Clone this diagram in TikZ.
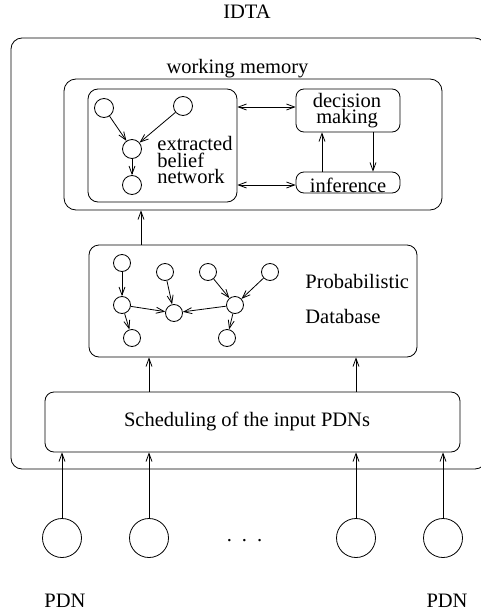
\documentclass[tikz,border=0pt]{standalone}
\usepackage{fontspec}
\setmainfont{Liberation Serif}
\usetikzlibrary{arrows.meta}
\begin{document}
\begin{tikzpicture}[x=1pt,y=-1pt,line width=0.8pt,
  >={Straight Barb[length=8pt,width=6pt]},
  arr/.style={->},
  darr/.style={<->},
  boxn/.style={draw,rounded corners=#1,inner sep=0pt},
  boxn/.default=9pt,
  cir/.style={draw,circle,inner sep=0pt,minimum size=#1},
  cir/.default=17pt,
  lab/.style={inner sep=0pt,font=\fontsize{20.5}{24}\selectfont},
  tight/.style={text height=11pt,text depth=3pt}]
\useasboundingbox (0,0) rectangle (480,613);
% boxes
\node[boxn=11pt,minimum width=475pt,minimum height=431pt] (outer) at (248.5,253.5) {};
\node[boxn=12pt,minimum width=378pt,minimum height=131pt] (wm) at (253,144.5) {};
\node[boxn=10pt,minimum width=149pt,minimum height=113pt] (bn) at (162.5,145.5) {};
\node[boxn=8pt,minimum width=104pt,minimum height=43pt] (dm) at (348,110.5) {};
\node[boxn=8pt,minimum width=104pt,minimum height=21pt] (inf) at (348,182.5) {};
\node[boxn=10pt,minimum width=328pt,minimum height=112pt] (db) at (253,301) {};
\node[boxn=9pt,minimum width=415pt,minimum height=60pt] (sch) at (252.5,422) {};
% texts
\node[lab,anchor=base] (tidta) at (247,19) {IDTA};
\node[lab,anchor=base] (twm) at (237.5,73) {working memory};
\node[lab,tight,anchor=base west] (t1) at (157,150) {extracted};
\node[lab,tight,anchor=base west] (t2) at (157,167) {belief};
\node[lab,tight,anchor=base west] (t3) at (157,183) {network};
\node[lab,tight,anchor=base] (t4) at (347,107) {decision};
\node[lab,tight,anchor=base] (t5) at (347,123) {making};
\node[lab,anchor=base] (t6) at (348,192) {inference};
\node[lab,anchor=base west] (t7) at (305,288) {Probabilistic};
\node[lab,anchor=base west] (t8) at (305,323) {Database};
\node[lab,anchor=base] (t9) at (247,426) {Scheduling of the input PDNs};
\node[lab,anchor=base] (t10) at (65,607) {PDN};
\node[lab,anchor=base] (t11) at (447,607) {PDN};
\node[lab,anchor=base] (tdots) at (244.5,541) {.\hspace{10pt}.\hspace{10pt}.};
% belief network
\node[cir=19pt] (b1) at (104,108) {};
\node[cir=19pt] (b2) at (183,106) {};
\node[cir=19pt] (b3) at (132,149) {};
\node[cir=19pt] (b4) at (132,185) {};
\draw[arr] (b1) -- (b3);
\draw[arr] (b2) -- (b3);
\draw[arr] (b3) -- (b4);
% database network
\node[cir] (n1) at (122,263) {};
\node[cir] (n2) at (165,272) {};
\node[cir] (n3) at (208,272) {};
\node[cir] (n4) at (270,272) {};
\node[cir] (n5) at (122,305) {};
\node[cir] (n6) at (174,313) {};
\node[cir] (n7) at (235,305) {};
\node[cir] (n8) at (132,338) {};
\node[cir] (n9) at (227,338) {};
\draw[arr] (n1) -- (n5);
\draw[arr] (n2) -- (n6);
\draw[arr] (n3) -- (n7);
\draw[arr] (n4) -- (n7);
\draw[arr] (n5) -- (n6);
\draw[arr] (n7) -- (n6);
\draw[arr] (n5) -- (n8);
\draw[arr] (n7) -- (n9);
% PDN circles
\node[cir=39pt] (p1) at (62,538) {};
\node[cir=39pt] (p2) at (149,538) {};
\node[cir=39pt] (p3) at (356,538) {};
\node[cir=39pt] (p4) at (443,538) {};
% connectors
\coordinate (ya) at (0,107);
\coordinate (yb) at (0,185);
\coordinate (xa) at (141,0);
\coordinate (xb) at (149,0);
\coordinate (xc) at (356,0);
\coordinate (xd) at (322,0);
\coordinate (xe) at (373,0);
\draw[darr] (bn.east |- ya) -- (dm.west |- ya);
\draw[darr] (bn.east |- yb) -- (inf.west |- yb);
\draw[arr] (inf.north -| xd) -- (dm.south -| xd);
\draw[arr] (dm.south -| xe) -- (inf.north -| xe);
\draw[arr] (db.north -| xa) -- (wm.south -| xa);
\draw[arr] (sch.north -| xb) -- (db.south -| xb);
\draw[arr] (sch.north -| xc) -- (db.south -| xc);
\draw[arr] (p1.north) -- (sch.south -| p1);
\draw[arr] (p2.north) -- (sch.south -| p2);
\draw[arr] (p3.north) -- (sch.south -| p3);
\draw[arr] (p4.north) -- (sch.south -| p4);
\end{tikzpicture}
\end{document}
